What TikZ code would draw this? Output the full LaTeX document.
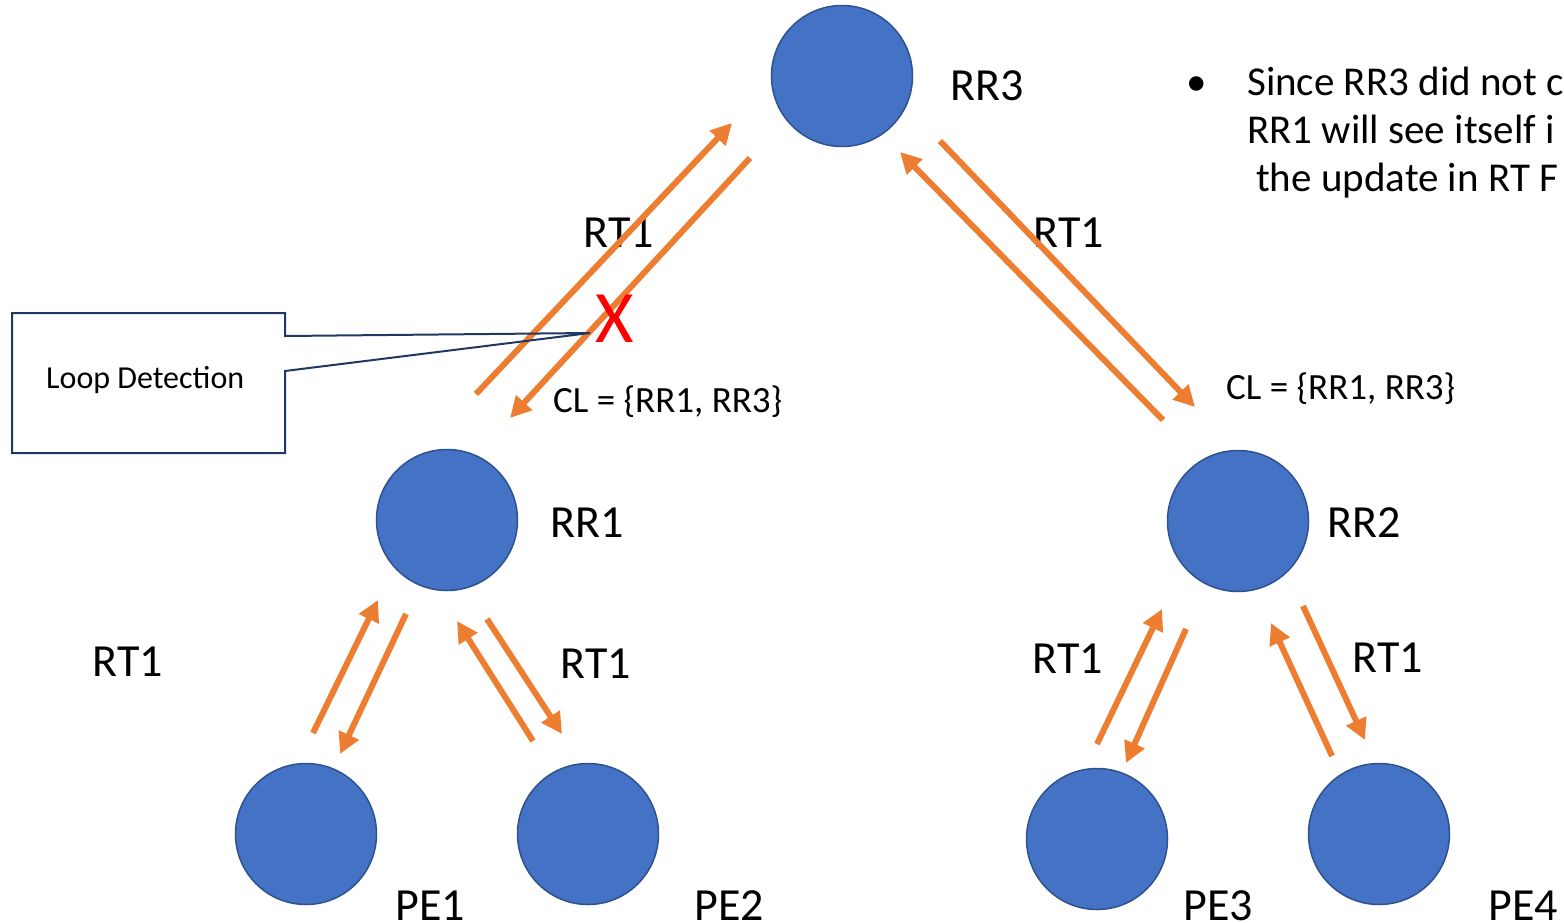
\documentclass[tikz,border=0pt]{standalone}
\usepackage{fontspec}
\setmainfont{Carlito}
\usetikzlibrary{arrows.meta}
\definecolor{nodeblue}{HTML}{4472C4}
\definecolor{nodeedge}{HTML}{2F528F}
\definecolor{linkorange}{HTML}{ED7D31}
\definecolor{calloutnavy}{HTML}{203864}
\begin{document}
\begin{tikzpicture}[x=1pt,y=-1pt,
  router/.style={circle,minimum size=141pt,inner sep=0pt,fill=nodeblue,draw=nodeedge,line width=1.5pt},
  lbl/.style={inner sep=0pt,anchor=base,font=\fontsize{46}{55}\selectfont},
  cltext/.style={inner sep=0pt,anchor=base west,font=\fontsize{37}{44}\selectfont},
  notetext/.style={inner sep=0pt,anchor=base west,font=\fontsize{41}{49}\selectfont},
  rtarrow/.style={draw=linkorange,line width=6pt,-{Triangle[length=21pt,width=21pt]}},
  callout/.style={draw=calloutnavy,line width=2pt,line join=miter}
]
\useasboundingbox (0,0) rectangle (1564,922);
\clip (0,0) rectangle (1564,922);

% route reflectors and provider edges
\node[router] (rr3) at (842,76) {};
\node[router] (rr1) at (447,520) {};
\node[router] (rr2) at (1238,521) {};
\node[router] (pe1) at (306,834) {};
\node[router] (pe2) at (588,834) {};
\node[router] (pe3) at (1097,839) {};
\node[router] (pe4) at (1379,834) {};

% router names
\node[lbl] (rr3l) at (987,100) {RR3};
\node[lbl] (rr1l) at (587,537) {RR1};
\node[lbl] (rr2l) at (1364,537) {RR2};
\node[lbl] (pe1l) at (430,920) {PE1};
\node[lbl] (pe2l) at (729,920) {PE2};
\node[lbl] (pe3l) at (1218,920) {PE3};
\node[lbl] (pe4l) at (1523,920) {PE4};

% route target labels
\node[lbl] (rt1) at (619,247) {RT1};
\node[lbl] (rt2) at (1069,247) {RT1};
\node[lbl] (rt3) at (128,676) {RT1};
\node[lbl] (rt4) at (596,678) {RT1};
\node[lbl] (rt5) at (1068,673) {RT1};
\node[lbl] (rt6) at (1388,672) {RT1};

% cluster lists
\node[cltext] (cl1) at (553,412) {CL = \{RR1, RR3\}};
\node[cltext] (cl2) at (1226,399) {CL = \{RR1, RR3\}};

% arrow end points
\coordinate (a1s) at (476,394); \coordinate (a1e) at (732,123);
\coordinate (a2s) at (750,158); \coordinate (a2e) at (510,418);
\coordinate (a3s) at (1163,420); \coordinate (a3e) at (900,152);
\coordinate (a4s) at (940,141); \coordinate (a4e) at (1195,407);
\coordinate (a5s) at (313,733); \coordinate (a5e) at (378,600);
\coordinate (a6s) at (406,614); \coordinate (a6e) at (340,754);
\coordinate (a7s) at (533,741); \coordinate (a7e) at (457,621);
\coordinate (a8s) at (487,619); \coordinate (a8e) at (562,734);
\coordinate (a9s) at (1097,744); \coordinate (a9e) at (1162,609);
\coordinate (a10s) at (1186,629); \coordinate (a10e) at (1126,763);
\coordinate (a11s) at (1332,756); \coordinate (a11e) at (1271,623);
\coordinate (a12s) at (1303,606); \coordinate (a12e) at (1365,740);

\foreach \i in {1,...,12} \draw[rtarrow] (a\i s) -- (a\i e);

% loop detection callout
\coordinate (tip) at (590,333);
\draw[callout] (12,313) -- (285,313) -- (285,336) -- (tip) -- (285,371) -- (285,453) -- (12,453) -- cycle;
\node[inner sep=0pt,anchor=base west,font=\fontsize{32}{38}\selectfont] (loop) at (46,388) {Loop Detection};

% rejected update mark
\node[inner sep=0pt,anchor=base,text=red,font=\fontsize{74}{88}\selectfont] (xmark) at (615,342) {X};

% note on the right
\node[notetext] (bullet) at (1186,95) {•};
\node[notetext] (note1) at (1247,95) {Since RR3 did not c};
\node[notetext] (note2) at (1247,143) {RR1 will see itself i};
\node[notetext] (note3) at (1256,191) {the update in RT F};
\end{tikzpicture}
\end{document}
